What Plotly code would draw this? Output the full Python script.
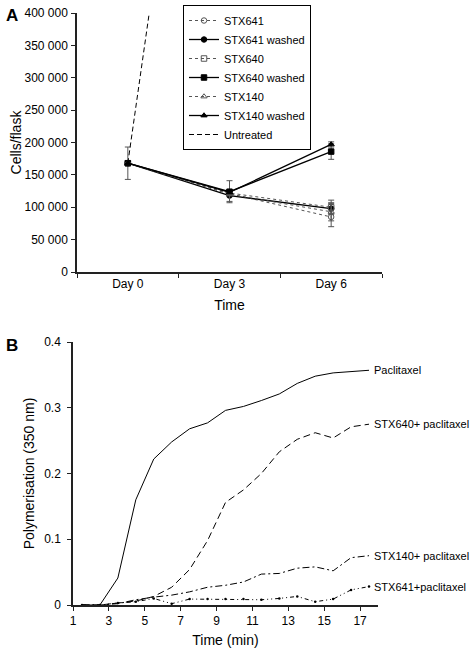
import plotly.graph_objects as go

# ---------- Panel A data ----------
days = ["Day 0", "Day 3", "Day 6"]
stx641 = [168000, 121000, 85000]
stx641_err = [0, 0, 15000]
stx641_washed = [168000, 118000, 98000]
stx641_washed_err = [0, 9000, 8000]
stx640 = [168000, 122000, 100000]
stx640_err = [0, 0, 11000]
stx640_washed = [168000, 124000, 186000]
stx640_washed_err = [25000, 17000, 12000]
stx140 = [168000, 120000, 93000]
stx140_err = [0, 0, 14000]
stx140_washed = [168000, 123000, 197000]
stx140_washed_err = [0, 0, 4000]
untreated = [168000, 1270000, 2100000]
yticks_a = [0, 50000, 100000, 150000, 200000, 250000, 300000, 350000, 400000]

# ---------- Panel B data ----------
time_min = [1.5, 2.5, 3.5, 4.5, 5.5, 6.5, 7.5, 8.5, 9.5, 10.5, 11.5, 12.5, 13.5, 14.5, 15.5, 16.5, 17.5]
paclitaxel = [0, 0, 0.041, 0.160, 0.222, 0.248, 0.268, 0.277, 0.296, 0.302, 0.311, 0.321, 0.337, 0.348, 0.353, 0.355, 0.357]
stx640_pac = [0, 0, 0.003, 0.006, 0.013, 0.027, 0.054, 0.098, 0.156, 0.175, 0.200, 0.233, 0.252, 0.262, 0.254, 0.271, 0.275]
stx140_pac = [0, 0, 0.002, 0.008, 0.012, 0.015, 0.020, 0.027, 0.030, 0.035, 0.047, 0.048, 0.056, 0.058, 0.052, 0.072, 0.075]
stx641_pac = [0, 0, 0.003, 0.005, 0.010, 0.002, 0.009, 0.009, 0.009, 0.009, 0.008, 0.010, 0.013, 0.005, 0.009, 0.023, 0.028]
yticks_b = [0, 0.1, 0.2, 0.3, 0.4]

FONT = "Liberation Sans, Arial, sans-serif"
AX = "#222"
GREY = "#555"

fig = go.Figure()


def add_a(name, y, err, dash, symbol, color, width=1):
    fig.add_trace(go.Scatter(
        x=days, y=y, name=name, mode="lines+markers",
        line=dict(color=color, width=width, dash=dash),
        marker=dict(symbol=symbol, size=5.5, color=color, line=dict(color=color, width=1)),
        error_y=dict(type="data", array=err, visible=True, color=GREY, thickness=1, width=3),
        xaxis="x", yaxis="y",
    ))


add_a("STX641", stx641, stx641_err, "dot", "circle-open", GREY)
add_a("STX641 washed", stx641_washed, stx641_washed_err, "solid", "circle", "black", 1.3)
add_a("STX640", stx640, stx640_err, "dot", "square-open", GREY)
add_a("STX640 washed", stx640_washed, stx640_washed_err, "solid", "square", "black", 1.3)
add_a("STX140", stx140, stx140_err, "dot", "triangle-up-open", GREY)
add_a("STX140 washed", stx140_washed, stx140_washed_err, "solid", "triangle-up", "black", 1.3)
fig.add_trace(go.Scatter(
    x=days, y=untreated, name="Untreated", mode="lines",
    line=dict(color="black", width=1, dash="5px,3px"), xaxis="x", yaxis="y",
))

# Panel B
series_b = [
    ("Paclitaxel", paclitaxel, "solid", "lines"),
    ("STX640+ paclitaxel", stx640_pac, "7px,4px", "lines"),
    ("STX140+ paclitaxel", stx140_pac, "7px,3px,2px,3px", "lines"),
    ("STX641+paclitaxel", stx641_pac, "4px,3px,1px,3px,1px,3px", "lines+markers"),
]
for name, vals, dash, mode in series_b:
    fig.add_trace(go.Scatter(
        x=time_min, y=vals, name=name, mode=mode, showlegend=False,
        line=dict(color="black", width=1, dash=dash),
        marker=dict(size=2.5, color="black"),
        xaxis="x2", yaxis="y2",
    ))
    fig.add_annotation(
        x=time_min[-1], y=vals[-1], xref="x2", yref="y2", text=name,
        showarrow=False, xanchor="left", yanchor="middle", xshift=3,
        font=dict(family=FONT, size=11, color="black"),
    )

W, H = 474, 648
axis_common = dict(showline=True, linecolor=AX, linewidth=1.5, showgrid=False, zeroline=False,
                   ticks="outside", ticklen=4, tickcolor=AX, automargin=False,
                   tickfont=dict(family=FONT, size=12, color="black"))

fig.update_layout(
    width=W, height=H, margin=dict(l=0, r=0, t=0, b=0),
    paper_bgcolor="white", plot_bgcolor="white",
    separators=". ",
    font=dict(family=FONT, color="black"),
    xaxis=dict(domain=[77 / W, 382 / W], anchor="y", type="category", range=[-0.5, 2.5],
               tickson="boundaries",
               title=dict(text="Time", font=dict(family=FONT, size=14), standoff=10), **axis_common),
    yaxis=dict(domain=[1 - 272 / H, 1 - 13 / H], anchor="x", range=[0, 400000],
               tickvals=yticks_a, tickformat=",d", ticklabelstandoff=1,
               title=dict(text="Cells/flask", font=dict(family=FONT, size=14), standoff=0), **axis_common),
    xaxis2=dict(domain=[73 / W, 378 / W], anchor="y2", range=[1, 18], tick0=1, dtick=2,
                title=dict(text="Time (min)", font=dict(family=FONT, size=14), standoff=9), **axis_common),
    yaxis2=dict(domain=[1 - 605 / H, 1 - 342 / H], anchor="x2", range=[0, 0.4],
                tickvals=yticks_b, ticklabelstandoff=4,
                title=dict(text="Polymerisation (350 nm)", font=dict(family=FONT, size=14), standoff=6),
                **axis_common),
    legend=dict(x=183 / W, y=1 - 5 / H, xanchor="left", yanchor="top",
                bordercolor="black", borderwidth=1, bgcolor="white",
                font=dict(family=FONT, size=11, color="black"), tracegroupgap=0),
    showlegend=True,
)

fig.add_annotation(x=4 / W, y=1 - 4 / H, xref="paper", yref="paper", text="<b>A</b>",
                   showarrow=False, xanchor="left", yanchor="top",
                   font=dict(family=FONT, size=17, color="black"))
fig.add_annotation(x=4 / W, y=1 - 334 / H, xref="paper", yref="paper", text="<b>B</b>",
                   showarrow=False, xanchor="left", yanchor="top",
                   font=dict(family=FONT, size=17, color="black"))

fig.write_html("out.html", config={"displayModeBar": False},
               post_script="document.body.style.margin='0px';")
